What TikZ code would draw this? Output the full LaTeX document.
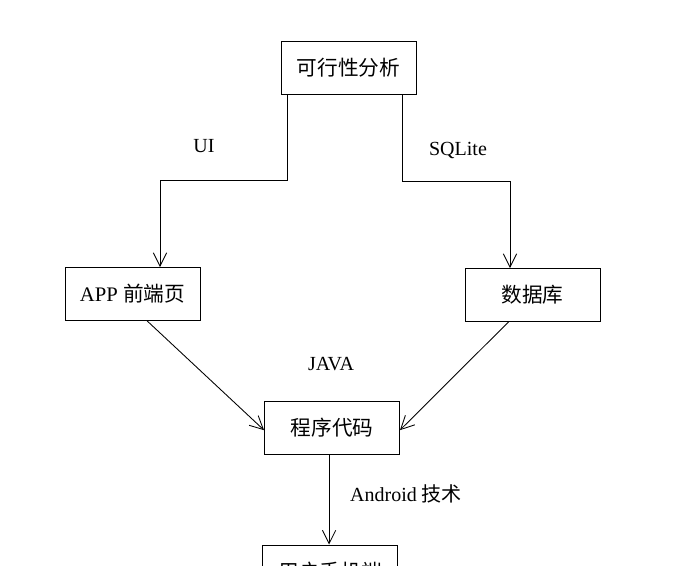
\documentclass[tikz,border=0pt]{standalone}
\usepackage{fontspec}
\setmainfont{Liberation Serif}
\newfontfamily\cjk{Noto Sans CJK SC}
\usetikzlibrary{arrows.meta}

\begin{document}
\begin{tikzpicture}[x=0.75pt,y=-0.75pt,
    box/.style={draw, line width=0.65pt, minimum width=101.25pt, minimum height=39.75pt, inner sep=0pt, font=\fontsize{15.5}{18}\selectfont},
    lbl/.style={font=\fontsize{15}{18}\selectfont},
    arr/.style={line width=0.65pt, -{Straight Barb[length=10pt,width=10pt]}}]
        \useasboundingbox (0,0) rectangle (673,565);
        \node[box] at (348.5,67.5) (feas) {\cjk 可行性分析};
        \node[box] at (132.5,294) (app) {APP {\cjk 前端页}};
        \node[box] at (532.5,295) (db) {\cjk 数据库};
        \node[box] at (332,427.5) (code) {\cjk 程序代码};
        \node[box] at (330,571.5) (phone) {\cjk 用户手机端};
        \coordinate (lt) at ([xshift=-45.75pt]feas.south);
        \coordinate (rt) at ([xshift=40.1pt]feas.south);
        \draw[arr] (lt) -- (lt |- 0,180) -| ([xshift=20.6pt]app.north);
        \draw[arr] (rt) -- (rt |- 0,181) -| ([xshift=-16.9pt]db.north);
        \draw[arr] ([xshift=11pt]app.south) -- ([yshift=-2pt]code.west);
        \draw[arr] ([xshift=-18pt]db.south) -- ([yshift=-2pt]code.east);
        \draw[arr] ([xshift=-2.2pt]code.south) -- ([xshift=-0.7pt]phone.north);
        \node[lbl] at (204,146) (ui) {UI};
        \node[lbl] at (458,150) (sql) {SQLite};
        \node[lbl] at (331,364) (java) {JAVA};
        \node[lbl] at (406,494) (andr) {Android {\cjk 技术}};
    \end{tikzpicture}
\end{document}
